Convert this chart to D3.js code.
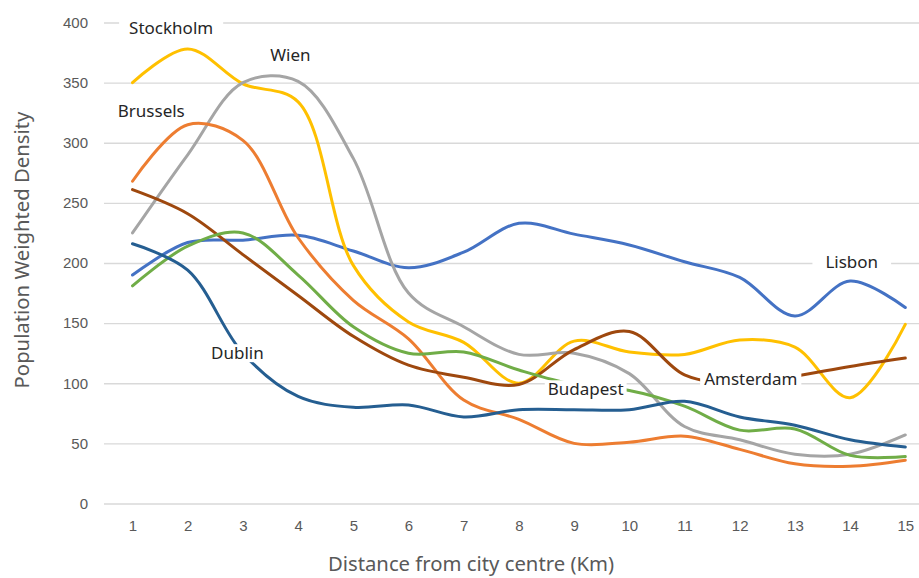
<!DOCTYPE html>
<html lang="en">
<head>
<meta charset="UTF-8">
<title>Population Weighted Density</title>
<script src="https://d3js.org/d3.v7.min.js"></script>
<style>
    body { margin: 0; background: #fff; }
    svg { display: block; font-family: "Noto Sans", "Open Sans", sans-serif; }
    .grid line { stroke: #d9d9d9; stroke-width: 1.3px; }
    .grid path { display: none; }
    .axis text { fill: #595959; font-size: 15px; }
    .axis path { display: none; }
    .title { fill: #595959; font-size: 20.3px; }
    .city text { fill: #262626; font-size: 17px; }
</style>
</head>
<body>
<script>
// distance from centre, km
const distances = [1, 2, 3, 4, 5, 6, 7, 8, 9, 10, 11, 12, 13, 14, 15]
const yTicks = [0, 50, 100, 150, 200, 250, 300, 350, 400]

// population weighted density
const lisbon    = [190, 217, 219, 223, 210, 196, 209, 233, 224, 215, 201, 188, 156, 185, 163]
const stockholm = [350, 378, 349, 334, 198, 151, 134, 100, 135, 126, 124, 136, 130, 88, 149]
const wien      = [225, 290, 350, 351, 287, 175, 147, 124, 125, 108, 64, 53, 41, 41, 57]
const brussels  = [268, 315, 302, 221, 169, 137, 86, 70, 50, 51, 56, 45, 33, 31, 36]
const amsterdam = [261, 241, 207, 173, 139, 115, 105, 99, 128, 143, 107, 100, 106, 114, 121]
const budapest  = [181, 214, 225, 190, 147, 125, 126, 111, 99, 94, 81, 61, 62, 40, 39]
const dublin    = [216, 194, 125, 89, 80, 82, 72, 78, 78, 78, 85, 72, 65, 53, 47]

const cities = [
    {name: "Lisbon", values: lisbon, color: "#4472c4"},
    {name: "Stockholm", values: stockholm, color: "#ffc000"},
    {name: "Wien", values: wien, color: "#a5a5a5"},
    {name: "Brussels", values: brussels, color: "#ed7d31"},
    {name: "Amsterdam", values: amsterdam, color: "#9e480e"},
    {name: "Budapest", values: budapest, color: "#70ad47"},
    {name: "Dublin", values: dublin, color: "#255e91"}
]

// where each city label sits, in data units
const labels = [
    {name: "Stockholm", x: 1.7, y: 395, pad: 10},
    {name: "Wien", x: 3.86, y: 373, pad: 4},
    {name: "Brussels", x: 1.34, y: 326, pad: 4},
    {name: "Lisbon", x: 14.03, y: 201, pad: 13},
    {name: "Dublin", x: 2.9, y: 125, pad: 3},
    {name: "Budapest", x: 9.21, y: 95, pad: 3},
    {name: "Amsterdam", x: 12.2, y: 103.5, pad: 4}
]

const W = 919, H = 578
const PLOT = {LEFT: 104, RIGHT: 919, TOP: 22.5, BOTTOM: 503.5}

const svg = d3.select("body").append("svg")
    .attr("width", W)
    .attr("height", H)

const x = d3.scalePoint().domain(distances).range([132.5, 905.3])
const y = d3.scaleLinear().domain([0, 400]).range([PLOT.BOTTOM, PLOT.TOP])

// gridlines + y labels
svg.append("g")
    .attr("class", "grid axis")
    .attr("transform", `translate(${PLOT.LEFT},0)`)
    .call(d3.axisLeft(y).tickValues(yTicks).tickSize(-(PLOT.RIGHT - PLOT.LEFT)).tickPadding(16))

svg.append("g")
    .attr("class", "axis")
    .attr("transform", `translate(0,${PLOT.BOTTOM})`)
    .call(d3.axisBottom(x).tickSize(0).tickPadding(17))

// lines
const line = d3.line()
    .x((d, i) => x(distances[i]))
    .y(d => y(d))
    .curve(d3.curveCatmullRom.alpha(0.5))

svg.append("g").selectAll("path")
    .data(cities)
    .join("path")
    .attr("d", d => line(d.values))
    .attr("fill", "none")
    .attr("stroke", d => d.color)
    .attr("stroke-width", 3)
    .attr("stroke-linecap", "round")

// city labels with white boxes
const xc = d3.scaleLinear().domain([1, 15]).range([132.5, 905.3])
const lab = svg.append("g").attr("class", "city")
labels.forEach(l => {
    const g = lab.append("g").attr("transform", `translate(${xc(l.x)},${y(l.y)})`)
    const rect = g.append("rect").attr("fill", "#fff")
    const t = g.append("text")
        .attr("text-anchor", "middle")
        .attr("dy", "0.35em")
        .text(l.name)
    const bb = t.node().getBBox()
    rect.attr("x", bb.x - l.pad).attr("y", -9)
        .attr("width", bb.width + 2 * l.pad).attr("height", 18)
})

// axis titles
svg.append("text")
    .attr("class", "title")
    .attr("x", 471)
    .attr("y", 571)
    .attr("text-anchor", "middle")
    .text("Distance from city centre (Km)")

svg.append("text")
    .attr("class", "title")
    .attr("transform", "translate(29,250) rotate(-90)")
    .attr("text-anchor", "middle")
    .text("Population Weighted Density")
</script>
</body>
</html>
